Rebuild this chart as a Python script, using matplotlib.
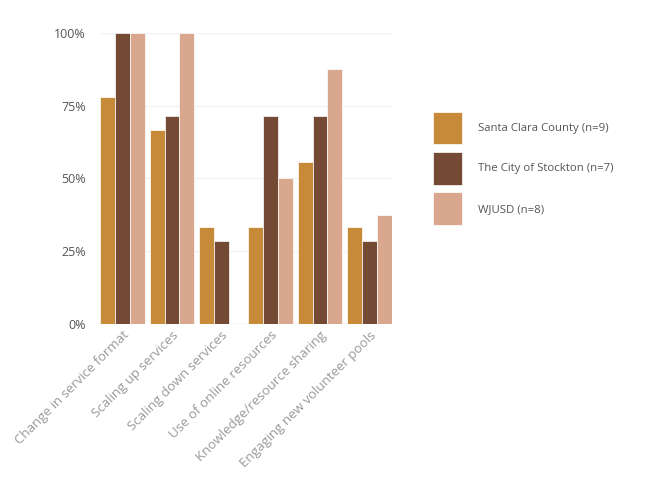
import matplotlib.pyplot as plt
import numpy as np

plt.rcParams['font.family'] = ['Open Sans', 'DejaVu Sans']

categories = ['Change in service format', 'Scaling up services', 'Scaling down services',
              'Use of online resources', 'Knowledge/resource sharing', 'Engaging new volunteer pools']
santa_clara = [77.8, 66.7, 33.3, 33.3, 55.6, 33.3]
stockton = [100, 71.4, 28.6, 71.4, 71.4, 28.6]
wjusd = [100, 100, 0, 50, 87.5, 37.5]
series_names = ['Santa Clara County (n=9)', 'The City of Stockton (n=7)', 'WJUSD (n=8)']
colors = ['#C78A38', '#744A34', '#D9A68E']

fig = plt.figure(figsize=(6.49, 4.82), dpi=100)
ax = fig.add_axes([0.154, 0.328, 0.45, 0.604])

x = np.arange(len(categories))
w = 0.3
bars = []
for i, (vals, c, name) in enumerate(zip([santa_clara, stockton, wjusd], colors, series_names)):
    b = ax.bar(x + (i - 1) * w, vals, width=w, color=c, edgecolor='white', linewidth=0.5, label=name, zorder=2)
    bars.append(b)

ax.set_xlim(-0.46, 5.46)
ax.set_ylim(0, 100)
ax.set_yticks([0, 25, 50, 75, 100])
ax.set_yticklabels(['0%', '25%', '50%', '75%', '100%'])
ax.grid(axis='y', color='#f2f2f2', linewidth=1, zorder=0)
for s in ax.spines.values():
    s.set_visible(False)
ax.axhline(0, color='#e6e6e6', linewidth=1, zorder=1)
ax.tick_params(axis='both', length=0, labelsize=9)
ax.tick_params(axis='y', pad=10, colors='#555555')
ax.set_xticks(x)
ax.set_xticklabels(categories, rotation=45, ha='right', rotation_mode='anchor', color='#999999', fontsize=9.5)

fig.legend(handles=bars, labels=series_names, loc='upper left', bbox_to_anchor=(0.658, 0.78),
           frameon=False, fontsize=8.2, handlelength=2.6, handleheight=4.0, labelspacing=0.7,
           handletextpad=1.4, labelcolor='#555555', borderpad=0)

plt.savefig('out.png', dpi=100)
